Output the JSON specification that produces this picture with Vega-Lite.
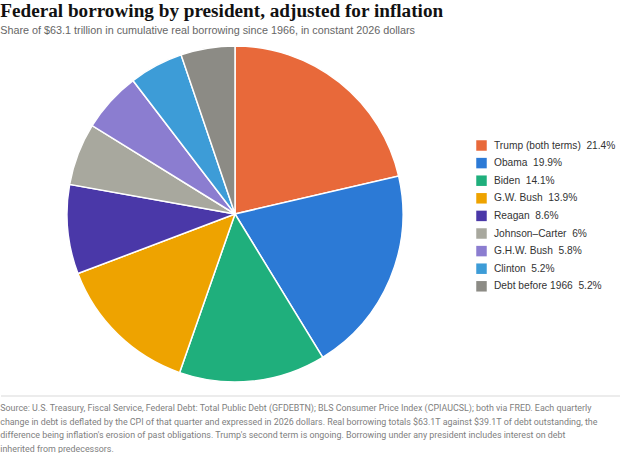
{
  "$schema": "https://vega.github.io/schema/vega-lite/v6.json",
  "padding": {"left": 0, "right": 0, "top": 2, "bottom": 0},
  "background": "white",
  "title": {
    "text": "Federal borrowing by president, adjusted for inflation",
    "subtitle": "Share of $63.1 trillion in cumulative real borrowing since 1966, in constant 2026 dollars",
    "anchor": "start",
    "font": "Liberation Serif",
    "fontSize": 19.2,
    "fontWeight": "bold",
    "color": "#111111",
    "subtitleFont": "Liberation Sans",
    "subtitleFontSize": 10.8,
    "subtitleColor": "#666666",
    "subtitlePadding": 4,
    "offset": 7
  },
  "datasets": {
    "shares": [
      {"president": "Trump (both terms)\u00a0 21.4%", "share": 21.4, "order": 1},
      {"president": "Obama\u00a0 19.9%", "share": 19.9, "order": 2},
      {"president": "Biden\u00a0 14.1%", "share": 14.1, "order": 3},
      {"president": "G.W. Bush\u00a0 13.9%", "share": 13.9, "order": 4},
      {"president": "Reagan\u00a0 8.6%", "share": 8.6, "order": 5},
      {"president": "Johnson–Carter\u00a0 6%", "share": 6.0, "order": 6},
      {"president": "G.H.W. Bush\u00a0 5.8%", "share": 5.8, "order": 7},
      {"president": "Clinton\u00a0 5.2%", "share": 5.2, "order": 8},
      {"president": "Debt before 1966\u00a0 5.2%", "share": 5.2, "order": 9}
    ]
  },
  "spacing": 10,
  "vconcat": [
    {
      "width": 468,
      "height": 336,
      "data": {"name": "shares"},
      "mark": {"type": "arc", "stroke": "white", "strokeWidth": 1.5},
      "encoding": {
        "theta": {"field": "share", "type": "quantitative", "stack": true},
        "order": {"field": "order", "type": "quantitative"},
        "color": {
          "field": "president",
          "type": "nominal",
          "sort": null,
          "scale": {
            "domain": ["Trump (both terms)\u00a0 21.4%", "Obama\u00a0 19.9%", "Biden\u00a0 14.1%", "G.W. Bush\u00a0 13.9%", "Reagan\u00a0 8.6%", "Johnson–Carter\u00a0 6%", "G.H.W. Bush\u00a0 5.8%", "Clinton\u00a0 5.2%", "Debt before 1966\u00a0 5.2%"],
            "range": ["#E8693A", "#2C7AD6", "#1FAF7C", "#EEA300", "#4A38A8", "#A8A89E", "#8B7DD0", "#3D9CD7", "#8C8B85"]
          },
          "legend": {
            "title": null,
            "orient": "none",
            "legendX": 475,
            "legendY": 94,
            "symbolType": "square",
            "symbolSize": 110,
            "symbolStrokeWidth": 0,
            "labelFont": "Liberation Sans",
            "labelFontSize": 10.2,
            "labelColor": "#333333",
            "labelOffset": 7,
            "rowPadding": 6.6,
            "labelLimit": 200
          }
        }
      }
    },
    {
      "width": 620,
      "height": 1,
      "data": {"values": [{}]},
      "mark": {"type": "rule", "color": "#E6E6E6", "strokeWidth": 1.5},
      "encoding": {
        "y": {"datum": 0, "type": "quantitative", "axis": null}
      },
      "title": {
        "text": [
          "Source: U.S. Treasury, Fiscal Service, Federal Debt: Total Public Debt (GFDEBTN); BLS Consumer Price Index (CPIAUCSL); both via FRED. Each quarterly",
          "change in debt is deflated by the CPI of that quarter and expressed in 2026 dollars. Real borrowing totals $63.1T against $39.1T of debt outstanding, the",
          "difference being inflation's erosion of past obligations. Trump's second term is ongoing. Borrowing under any president includes interest on debt",
          "inherited from predecessors."
        ],
        "orient": "bottom",
        "anchor": "start",
        "baseline": "top",
        "font": "Roboto",
        "fontSize": 8.9,
        "fontWeight": "normal",
        "color": "#808080",
        "lineHeight": 13.5,
        "offset": 7
      }
    }
  ],
  "config": {
    "view": {"stroke": null}
  }
}
